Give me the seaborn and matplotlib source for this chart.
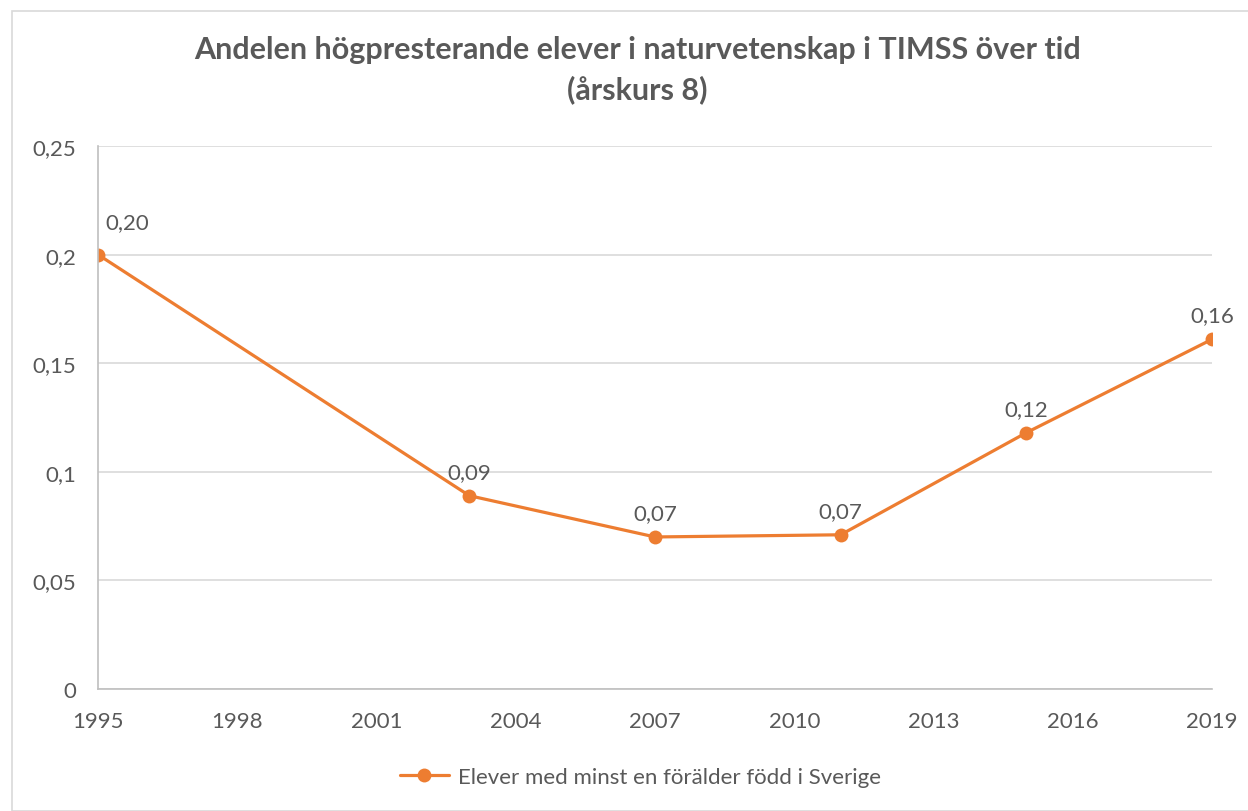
import matplotlib
matplotlib.use("Agg")
import matplotlib.pyplot as plt
import seaborn as sns
import pandas as pd
from matplotlib.patches import Rectangle

# data
years = [1995, 2003, 2007, 2011, 2015, 2019]
shares = [0.200, 0.089, 0.070, 0.071, 0.118, 0.161]
series_name = "Elever med minst en förälder född i Sverige"
title = "Andelen högpresterande elever i naturvetenskap i TIMSS över tid\n(årskurs 8)"
xticks = [1995, 1998, 2001, 2004, 2007, 2010, 2013, 2016, 2019]
yticks = [0, 0.05, 0.1, 0.15, 0.2, 0.25]
ytick_labels = ["0", "0,05", "0,1", "0,15", "0,2", "0,25"]

df = pd.DataFrame({"year": years, "share": shares, "serie": series_name})

sns.set_style("white")
plt.rcParams["font.family"] = ["Lato", "DejaVu Sans"]

orange = "#ED7D31"
grey_txt = "#595959"
grid_col = "#D9D9D9"

fig = plt.figure(figsize=(12.48, 8.12), dpi=100)
# outer chart border
fig.patches.append(Rectangle((12 / 1248, 0.0), 1.0, 1 - 12 / 812, transform=fig.transFigure,
                             fill=False, edgecolor="#D9D9D9", linewidth=1.2))
ax = fig.add_axes([98 / 1248, 1 - 690 / 812, (1212 - 98) / 1248, (690 - 147) / 812])

sns.lineplot(data=df, x="year", y="share", hue="serie", palette=[orange], marker="o",
             markersize=10, markeredgewidth=0, linewidth=2.3, ax=ax)

for x, y in zip(years, shares):
    lbl = f"{y:.2f}".replace(".", ",")
    if x == years[0]:
        ax.annotate(lbl, (x, y), xytext=(5, 16), textcoords="offset points",
                    ha="left", va="bottom", fontsize=16, color=grey_txt)
    else:
        ax.annotate(lbl, (x, y), xytext=(0, 10), textcoords="offset points",
                    ha="center", va="bottom", fontsize=16, color=grey_txt)

ax.set_xlim(1995, 2019)
ax.set_ylim(0, 0.25)
ax.set_xticks(xticks)
ax.set_xticklabels([str(t) for t in xticks])
ax.set_yticks(yticks)
ax.set_yticklabels(ytick_labels)
ax.tick_params(axis="both", labelsize=16, colors=grey_txt, length=0)
ax.tick_params(axis="x", pad=16)
ax.tick_params(axis="y", pad=16)
ax.yaxis.grid(True, color=grid_col, linewidth=1.2)
ax.xaxis.grid(False)
for s in ["top", "right"]:
    ax.spines[s].set_visible(False)
for s in ["left", "bottom"]:
    ax.spines[s].set_color("#BFBFBF")
    ax.spines[s].set_linewidth(1.2)
ax.set_xlabel("")
ax.set_ylabel("")

fig.suptitle(title, x=0.511, y=1 - 36 / 812, fontsize=22, fontweight="bold",
             color=grey_txt, va="top", linespacing=1.45)

handles, labels = ax.get_legend_handles_labels()
ax.legend(handles, labels, loc="center", bbox_to_anchor=(0.513, 1 - 778 / 812),
          bbox_transform=fig.transFigure, frameon=False, fontsize=16,
          labelcolor=grey_txt, handlelength=2.2, handletextpad=0.4)

fig.savefig("out.png", dpi=100)
